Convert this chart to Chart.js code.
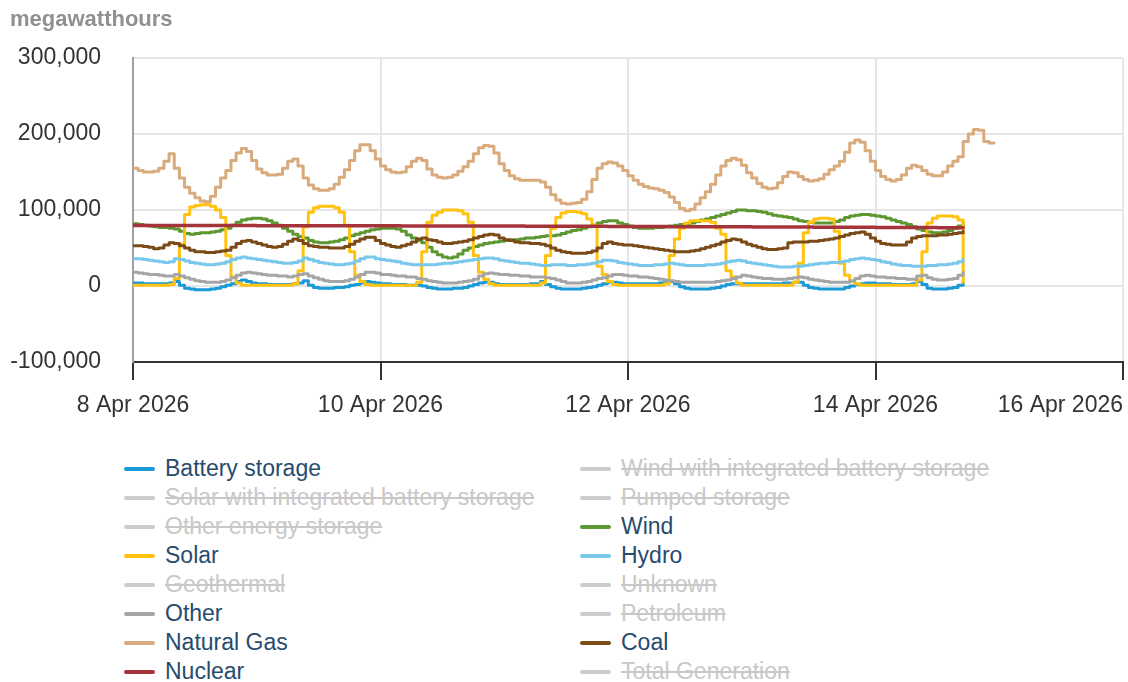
<!DOCTYPE html>
<html>
<head>
<meta charset="utf-8">
<script src="https://cdn.jsdelivr.net/npm/chart.js@4"></script>
<style>
  html, body { margin: 0; padding: 0; background: #fff; }
  body { width: 1128px; height: 682px; position: relative; overflow: hidden;
         font-family: "Liberation Sans", Arial, sans-serif; }
  #wrap { position: absolute; left: 0; top: 0; width: 1128px; height: 440px; }
  #legend { position: absolute; left: 0; top: 454px; width: 1128px; height: 232px; }
  .item { position: absolute; height: 29px; line-height: 29px; font-size: 23px;
          color: #274b6d; white-space: nowrap; }
  .item .sym { position: absolute; left: 0; top: 12.5px; width: 31px; height: 4px; border-radius: 2px; }
  .item .txt { position: absolute; left: 41px; top: 0; }
  .item.off { color: #c8c8c8; }
  .item.off .txt { text-decoration: line-through; }
</style>
</head>
<body>
<div id="wrap"><canvas id="chart" width="1128" height="440"></canvas></div>
<div id="legend"></div>
<script>
// hourly values from 8 Apr 2026 00:00, thousand MWh
const xTickLabels = ['8 Apr 2026', '10 Apr 2026', '12 Apr 2026', '14 Apr 2026', '16 Apr 2026'];
const yTicks = [-100000, 0, 100000, 200000, 300000];

const battery = [
  4,4,3,3,3,3,3,4,6,1,-3,-4,-5,-5,-5,-4,-3,-1,1,3,6,8,6,4,
  3,3,2,2,2,2,2,3,4,7,1,-2,-3,-3,-3,-2,-2,-1,1,2,4,6,5,4,
  3,3,2,2,2,1,1,1,0,-2,-3,-4,-4,-4,-3,-3,-2,0,2,4,5,5,3,2,
  2,2,2,2,2,3,3,6,2,-1,-3,-4,-4,-4,-4,-3,-2,-1,1,3,5,5,4,3,
  3,3,3,3,3,3,4,5,6,3,-1,-3,-4,-4,-4,-4,-3,-2,0,2,3,3,3,3,
  3,3,3,3,3,3,4,4,5,5,1,-2,-3,-4,-4,-4,-4,-4,-2,0,2,3,4,4,
  3,3,3,2,2,2,2,3,6,2,-3,-4,-4,-4,-3,-2,1,5
];
const wind = [
  82,81,80,79,78,77,77,76,75,72,69,68,69,70,70,71,72,74,76,80,84,87,88,89,
  89,88,86,83,80,76,72,68,65,63,60,58,57,57,58,59,61,63,66,68,70,72,74,75,
  76,76,76,75,72,67,63,60,57,51,45,41,38,37,38,42,47,50,52,54,56,57,58,59,
  60,61,61,62,63,63,64,65,66,66,67,69,71,73,74,76,78,80,83,85,86,86,83,81,
  79,77,76,76,76,77,77,78,79,80,81,82,83,85,87,88,90,92,94,96,98,100,100,99,
  99,98,97,95,93,92,91,90,88,86,85,84,83,83,83,83,85,87,90,92,93,94,94,93,
  92,91,89,87,85,83,81,78,75,73,71,70,70,71,73,76,79,84
];
const solar = [
  1,1,1,1,1,1,1,2,10,55,94,104,106,107,107,105,100,90,40,12,4,1,1,1,
  1,1,1,1,1,1,1,3,20,78,97,103,105,105,105,103,97,80,45,14,6,2,1,1,
  1,1,1,1,1,1,1,5,45,84,93,97,100,100,100,99,95,84,40,18,9,3,1,1,
  1,1,1,1,1,1,1,4,40,76,90,96,98,98,97,95,88,80,26,15,6,2,1,1,
  1,1,1,1,1,1,1,3,40,62,76,83,86,86,86,86,84,76,68,20,12,4,1,1,
  1,1,1,1,1,1,1,1,5,30,70,84,88,89,89,88,72,30,14,6,3,1,1,1,
  1,1,1,1,1,1,1,1,8,45,83,89,92,92,92,91,87,5
];
const hydro = [
  36,36,35,34,33,32,31,32,36,35,33,31,30,29,28,28,29,30,32,35,37,38,37,36,
  35,34,33,32,31,30,30,31,33,37,35,33,31,30,29,28,28,29,30,33,36,38,38,36,
  35,34,33,32,30,29,28,28,28,28,28,29,30,30,31,32,33,34,35,36,37,37,36,34,
  33,32,31,30,30,29,28,27,27,28,28,28,27,27,28,28,29,30,32,34,34,33,31,30,
  29,28,27,27,27,28,28,29,30,29,28,27,27,27,27,28,28,29,30,32,33,34,33,31,
  30,29,28,27,26,25,25,25,26,26,27,28,29,30,30,31,31,32,33,35,36,37,36,35,
  34,32,31,29,28,27,27,26,26,26,27,27,28,28,29,30,32,35
];
const other = [
  18,17,16,15,15,14,13,13,15,13,11,9,7,6,5,5,5,6,8,11,14,17,18,17,
  16,15,14,14,13,13,12,13,15,16,13,11,9,7,6,6,6,7,9,12,15,18,18,17,
  15,15,14,13,13,12,12,10,9,7,6,5,4,4,4,5,6,7,9,13,16,17,16,15,
  15,14,14,13,13,12,12,12,11,10,8,6,4,4,4,5,6,8,10,11,13,15,15,14,
  13,13,12,12,11,10,9,8,7,6,5,5,5,5,5,5,5,6,7,8,10,12,14,13,
  12,11,10,10,9,9,9,10,11,12,11,9,8,7,6,5,5,5,5,7,10,13,14,13,
  12,12,11,11,10,10,9,9,13,14,11,9,8,8,9,10,14,18
];
const naturalGas = [
  155,152,150,150,151,155,164,174,155,142,130,122,116,112,111,118,130,142,152,165,175,181,177,165,
  154,149,146,146,147,155,164,167,158,142,133,128,126,126,128,134,143,153,165,178,186,186,178,167,
  158,153,150,149,150,157,164,168,165,154,146,143,142,143,146,151,157,164,174,182,185,184,175,161,
  152,145,141,139,139,139,139,137,130,120,113,109,108,109,110,114,124,140,155,161,163,162,158,152,
  145,139,134,131,129,128,126,123,117,110,102,99,101,108,116,124,134,146,158,165,168,166,159,149,
  142,135,130,128,129,136,144,150,149,144,140,138,139,141,147,153,158,164,176,188,192,189,178,164,
  152,144,140,138,140,146,155,159,157,152,147,145,145,150,158,164,170,190,200,206,205,190,188,188
];
const coal = [
  53,53,52,51,49,50,54,57,56,53,50,47,45,45,44,44,45,46,47,51,56,59,60,58,
  56,54,52,51,52,55,59,62,60,56,53,52,51,51,50,50,50,52,55,59,62,64,64,60,
  56,54,52,51,53,55,58,62,63,61,60,58,56,56,57,58,59,61,63,65,67,68,67,63,
  61,60,58,57,57,56,56,55,53,50,47,45,44,43,43,43,44,46,50,56,58,56,55,54,
  54,53,52,51,50,49,48,47,46,45,45,45,46,47,49,51,53,55,58,60,62,61,58,55,
  53,51,49,48,48,49,50,57,58,58,58,59,59,60,61,62,63,65,67,69,70,71,68,63,
  59,56,55,54,54,54,58,63,65,66,66,66,67,67,68,69,70,72
];
const nuclear = [
  79.6,79.6,79.6,79.6,79.6,79.6,79.5,79.5,79.5,79.5,79.5,79.5,79.5,79.5,79.5,79.5,79.5,79.5,79.5,79.5,79.5,79.5,79.5,79.5,
  79.4,79.4,79.4,79.4,79.4,79.4,79.4,79.4,79.3,79.3,79.3,79.3,79.3,79.3,79.3,79.3,79.3,79.3,79.3,79.3,79.3,79.3,79.3,79.3,
  79.2,79.2,79.2,79.2,79.1,79.1,79.1,79.1,79.1,79.1,79.0,79.0,79.0,79.0,79.0,79.0,79.0,79.0,79.0,79.0,78.9,78.9,78.9,78.9,
  78.8,78.8,78.8,78.8,78.7,78.7,78.7,78.7,78.6,78.6,78.6,78.6,78.6,78.6,78.5,78.5,78.5,78.5,78.5,78.5,78.4,78.4,78.4,78.4,
  78.3,78.3,78.3,78.3,78.2,78.2,78.2,78.2,78.1,78.1,78.1,78.1,78.0,78.0,78.0,78.0,77.9,77.9,77.9,77.9,77.8,77.8,77.8,77.8,
  77.7,77.7,77.7,77.7,77.6,77.6,77.6,77.6,77.5,77.5,77.5,77.5,77.4,77.4,77.4,77.4,77.3,77.3,77.3,77.3,77.2,77.2,77.2,77.2,
  77.1,77.1,77.1,77.1,77.0,77.0,77.0,77.0,76.9,76.9,76.9,76.9,76.8,76.8,76.8,76.8,76.7,76.7
];

const seriesNames = [
  'Battery storage', 'Wind with integrated battery storage',
  'Solar with integrated battery storage', 'Pumped storage',
  'Other energy storage', 'Wind',
  'Solar', 'Hydro',
  'Geothermal', 'Unknown',
  'Other', 'Petroleum',
  'Natural Gas', 'Coal',
  'Nuclear', 'Total Generation'
];
const seriesValues = [battery, null, null, null, null, wind, solar, hydro,
  null, null, other, null, naturalGas, coal, nuclear, null];
const seriesColors = ['#1a9ad6', '#cccccc', '#cccccc', '#cccccc', '#cccccc', '#5d9732',
  '#ffc20e', '#79c7ea', '#cccccc', '#cccccc', '#a5a5a5', '#cccccc',
  '#d9aa7c', '#7a4a17', '#a4343a', '#cccccc'];

const FONT = '"Liberation Sans", Arial, sans-serif';

function points(vals) {
  return vals.map((v, i) => ({ x: i, y: v * 1000 }));
}

const datasets = seriesNames.map((name, i) => ({
  label: name,
  data: seriesValues[i] ? points(seriesValues[i]) : [],
  hidden: !seriesValues[i],
  borderColor: seriesColors[i],
  backgroundColor: seriesColors[i],
  borderWidth: name === 'Nuclear' ? 3.5 : 3,
  pointRadius: 0,
  stepped: true,
  borderJoinStyle: 'round',
  borderCapStyle: 'round',
  fill: false,
  order: -i
}));

// right-align the last date label so it stays inside the canvas
const lastLabelPlugin = {
  id: 'lastLabel',
  beforeDraw(chart) {
    const items = chart.scales.x.getLabelItems();
    const last = items[items.length - 1];
    if (last) last.options.textAlign = 'right';
  }
};

const chart = new Chart(document.getElementById('chart'), {
  type: 'line',
  data: { datasets },
  plugins: [lastLabelPlugin],
  options: {
    responsive: false,
    animation: false,
    devicePixelRatio: 1,
    layout: { padding: { left: 10, right: 5, top: 0, bottom: 8.4 } },
    plugins: {
      legend: { display: false },
      tooltip: { enabled: false },
      title: {
        display: true,
        text: 'megawatthours',
        align: 'start',
        color: '#909090',
        font: { family: FONT, size: 22, weight: 'bold' },
        padding: { top: 7, bottom: 24.6 }
      }
    },
    scales: {
      x: {
        type: 'linear',
        min: 0,
        max: 192,
        ticks: {
          stepSize: 48,
          autoSkip: false,
          maxRotation: 0,
          padding: 12,
          color: '#333',
          font: { family: FONT, size: 23 },
          callback: v => xTickLabels[v / 48]
        },
        grid: {
          color: c => c.index === 0 ? 'rgba(0,0,0,0)' : '#e6e6e6',
          lineWidth: 2,
          tickColor: '#333',
          tickLength: 18,
          tickWidth: 2
        },
        border: { color: '#333', width: 2 },
        afterFit: s => { s.paddingRight = 0; }
      },
      y: {
        min: yTicks[0],
        max: yTicks[yTicks.length - 1],
        afterBuildTicks: s => { s.ticks = yTicks.map(v => ({ value: v })); },
        ticks: {
          padding: 32,
          color: '#333',
          font: { family: FONT, size: 23 },
          callback: v => v.toLocaleString('en-US')
        },
        grid: {
          color: c => (c.tick && c.tick.value === yTicks[0]) ? 'rgba(0,0,0,0)' : '#e6e6e6',
          lineWidth: 2,
          drawTicks: false
        },
        border: { color: '#a0a0a0', width: 2 },
        afterFit: s => { s.width = 123; }
      }
    }
  }
});

// html legend, two columns, built from the chart's datasets
const legendEl = document.getElementById('legend');
chart.data.datasets.forEach((ds, k) => {
  const item = document.createElement('div');
  item.className = 'item' + (ds.hidden ? ' off' : '');
  item.style.left = (k % 2 === 0 ? 124 : 580) + 'px';
  item.style.top = (Math.floor(k / 2) * 29) + 'px';
  const sym = document.createElement('span');
  sym.className = 'sym';
  sym.style.background = ds.hidden ? '#cccccc' : ds.borderColor;
  const txt = document.createElement('span');
  txt.className = 'txt';
  txt.textContent = ds.label;
  item.appendChild(sym);
  item.appendChild(txt);
  legendEl.appendChild(item);
});
</script>
</body>
</html>
